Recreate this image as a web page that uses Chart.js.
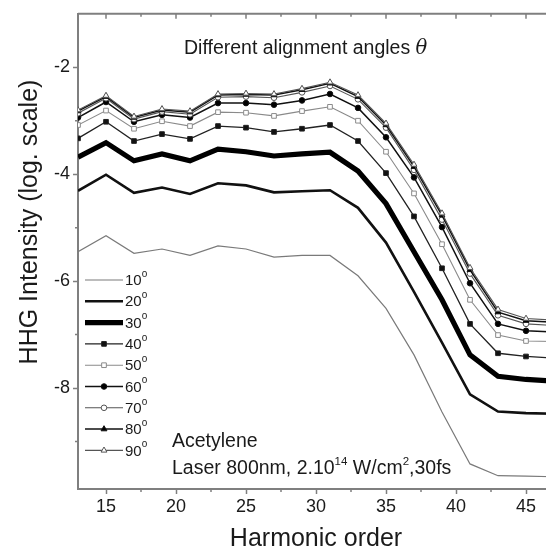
<!DOCTYPE html>
<html>
<head>
<meta charset="utf-8">
<script src="https://cdn.jsdelivr.net/npm/chart.js@4/dist/chart.umd.min.js"></script>
<style>
  html, body { margin: 0; padding: 0; background: #fff; overflow: hidden; }
  canvas { display: block; }
</style>
</head>
<body>
<canvas id="hhg" width="560" height="552"></canvas>
<script>
// Harmonic orders (odd harmonics), last one falls just past the visible edge
const orders = [13, 15, 17, 19, 21, 23, 25, 27, 29, 31, 33, 35, 37, 39, 41, 43, 45, 47];
const angleLabels = ['10', '20', '30', '40', '50', '60', '70', '80', '90'];

// log10 of HHG intensity
const i10 = [-5.45, -5.15, -5.48, -5.40, -5.52, -5.34, -5.40, -5.55, -5.52, -5.52, -5.90, -6.51, -7.38, -8.45, -9.42, -9.64, -9.65, -9.66];
const i20 = [-4.31, -4.01, -4.35, -4.25, -4.37, -4.17, -4.21, -4.34, -4.32, -4.30, -4.63, -5.28, -6.20, -7.15, -8.12, -8.44, -8.47, -8.48];
const i30 = [-3.68, -3.41, -3.75, -3.62, -3.75, -3.53, -3.58, -3.66, -3.62, -3.59, -3.94, -4.55, -5.45, -6.35, -7.38, -7.78, -7.84, -7.87];
const i40 = [-3.33, -3.02, -3.38, -3.25, -3.34, -3.10, -3.13, -3.21, -3.15, -3.08, -3.38, -3.98, -4.79, -5.76, -6.80, -7.35, -7.41, -7.44];
const i50 = [-3.08, -2.81, -3.15, -3.01, -3.10, -2.84, -2.85, -2.91, -2.82, -2.74, -3.00, -3.58, -4.36, -5.31, -6.35, -7.01, -7.12, -7.13];
const i60 = [-2.94, -2.65, -3.02, -2.89, -2.94, -2.67, -2.67, -2.70, -2.62, -2.50, -2.76, -3.31, -4.06, -4.99, -6.04, -6.80, -6.93, -6.95];
const i70 = [-2.86, -2.58, -2.97, -2.83, -2.88, -2.56, -2.55, -2.57, -2.47, -2.35, -2.60, -3.13, -3.92, -4.85, -5.86, -6.64, -6.80, -6.83];
const i80 = [-2.82, -2.55, -2.94, -2.80, -2.84, -2.52, -2.51, -2.52, -2.42, -2.30, -2.55, -3.08, -3.86, -4.77, -5.79, -6.58, -6.74, -6.77];
const i90 = [-2.80, -2.53, -2.92, -2.78, -2.82, -2.50, -2.49, -2.50, -2.40, -2.28, -2.52, -3.05, -3.82, -4.73, -5.75, -6.53, -6.70, -6.73];
const series = [i10, i20, i30, i40, i50, i60, i70, i80, i90];

// tick values
const xMajor = [15, 20, 25, 30, 35, 40, 45];
const xMinor = [17.5, 22.5, 27.5, 32.5, 37.5, 42.5];
const yMajor = [-8, -6, -4, -2];
const yMinor = [-9, -7, -5, -3];

const FONT = '"Liberation Sans", Arial, Helvetica, sans-serif';
const AXIS = '#7f7f7f';
const INK = '#1a1a1a';

// line look per angle
const styles = [
  { color: '#7a7a7a', width: 1.2, point: false },
  { color: '#111111', width: 2.6, point: false },
  { color: '#000000', width: 5.2, point: false },
  { color: '#222222', width: 1.3, point: 'rect', fill: '#111111', r: 3.3 },
  { color: '#8a8a8a', width: 1.1, point: 'rect', fill: '#ffffff', r: 3.3 },
  { color: '#111111', width: 1.5, point: 'circle', fill: '#000000', r: 2.8 },
  { color: '#555555', width: 1.1, point: 'circle', fill: '#ffffff', r: 2.8 },
  { color: '#111111', width: 1.5, point: 'triangle', fill: '#000000', r: 3.4 },
  { color: '#555555', width: 1.1, point: 'triangle', fill: '#ffffff', r: 3.4 }
];

const datasets = series.map((vals, i) => {
  const st = styles[i];
  return {
    label: angleLabels[i],
    data: vals.map((v, k) => ({ x: orders[k], y: v })),
    borderColor: st.color,
    borderWidth: st.width,
    backgroundColor: st.fill || st.color,
    pointStyle: st.point || 'circle',
    pointRadius: st.point ? st.r : 0,
    pointBackgroundColor: st.fill || st.color,
    pointBorderColor: st.color,
    pointBorderWidth: 1,
    tension: 0,
    order: series.length - 1 - i
  };
});

// frame, minor ticks, in-plot texts and the line-sample legend
const decor = {
  id: 'decor',
  afterDraw(chart) {
    const { ctx, chartArea: a, scales: { x, y } } = chart;
    ctx.save();
    ctx.strokeStyle = AXIS;
    ctx.lineWidth = 2;
    ctx.beginPath();
    ctx.moveTo(a.left, a.top);
    ctx.lineTo(a.right, a.top);
    ctx.stroke();

    ctx.lineWidth = 1.5;
    ctx.beginPath();
    xMajor.forEach(v => { const px = x.getPixelForValue(v); ctx.moveTo(px, a.top); ctx.lineTo(px, a.top + 5); });
    xMinor.forEach(v => {
      const px = x.getPixelForValue(v);
      ctx.moveTo(px, a.top); ctx.lineTo(px, a.top + 3);
      ctx.moveTo(px, a.bottom); ctx.lineTo(px, a.bottom + 3);
    });
    yMinor.forEach(v => { const py = y.getPixelForValue(v); ctx.moveTo(a.left, py); ctx.lineTo(a.left - 3, py); });
    ctx.stroke();

    // axis titles
    ctx.fillStyle = INK;
    ctx.font = '25px ' + FONT;
    ctx.textAlign = 'center';
    ctx.textBaseline = 'alphabetic';
    ctx.fillText('Harmonic order', (a.left + a.right) / 2, 546);
    ctx.save();
    ctx.translate(37, 222);
    ctx.rotate(-Math.PI / 2);
    ctx.fillText('HHG Intensity (log. scale)', 0, 0);
    ctx.restore();

    // in-plot texts
    ctx.textAlign = 'left';
    ctx.font = '19.5px ' + FONT;
    let tx = 184;
    ctx.fillText('Different alignment angles ', tx, 54);
    tx += ctx.measureText('Different alignment angles ').width;
    ctx.font = 'italic 19.5px "DejaVu Serif", serif';
    ctx.fillText('\u03B8', tx, 54);

    ctx.font = '19.5px ' + FONT;
    ctx.fillText('Acetylene', 172, 447);
    const parts = [['Laser 800nm, 2.10', false], ['14', true], [' W/cm', false], ['2', true], [',30fs', false]];
    tx = 172;
    parts.forEach(([t, sup]) => {
      ctx.font = (sup ? '11.5px ' : '19.5px ') + FONT;
      ctx.fillText(t, tx, sup ? 465 : 474);
      tx += ctx.measureText(t).width;
    });

    // legend
    chart.data.datasets.forEach((ds, i) => {
      const st = styles[i];
      const ly = 280 + i * 21.3;
      ctx.strokeStyle = st.color;
      ctx.lineWidth = st.width;
      ctx.beginPath();
      ctx.moveTo(85, ly);
      ctx.lineTo(123, ly);
      ctx.stroke();
      if (st.point) {
        ctx.fillStyle = st.fill;
        ctx.strokeStyle = st.color;
        ctx.lineWidth = 1;
        Chart.helpers.drawPoint(ctx, { pointStyle: st.point, radius: st.r, borderWidth: 1, rotation: 0 }, 104, ly);
      }
      ctx.fillStyle = INK;
      ctx.font = '15px ' + FONT;
      ctx.textBaseline = 'middle';
      ctx.fillText(ds.label, 125, ly + 1);
      const w = ctx.measureText(ds.label).width;
      ctx.font = '10px ' + FONT;
      ctx.fillText('o', 125 + w, ly - 6);
      ctx.textBaseline = 'alphabetic';
    });
    ctx.restore();
  }
};

new Chart(document.getElementById('hhg'), {
  type: 'line',
  data: { datasets },
  options: {
    responsive: false,
    animation: false,
    layout: { padding: { left: 0, top: 9, right: 6, bottom: 0 } },
    plugins: { legend: { display: false }, tooltip: { enabled: false } },
    scales: {
      x: {
        type: 'linear',
        min: 13,
        max: 47,
        afterBuildTicks: s => { s.ticks = xMajor.map(v => ({ value: v })); },
        afterFit: s => { s.height = 63; },
        grid: { display: true, drawOnChartArea: false, drawTicks: true, tickLength: 5, tickColor: AXIS, tickWidth: 1.5 },
        border: { display: true, color: AXIS, width: 2 },
        ticks: { font: { family: FONT, size: 18 }, color: INK, padding: 2, maxRotation: 0, autoSkip: false }
      },
      y: {
        type: 'linear',
        min: -9.889,
        max: -1,
        afterBuildTicks: s => { s.ticks = yMajor.map(v => ({ value: v })); },
        afterFit: s => { s.width = 78; },
        grid: { display: true, drawOnChartArea: false, drawTicks: true, tickLength: 5, tickColor: AXIS, tickWidth: 1.5 },
        border: { display: true, color: AXIS, width: 2 },
        ticks: { font: { family: FONT, size: 18 }, color: INK, padding: 3, autoSkip: false }
      }
    }
  },
  plugins: [decor]
});
</script>
</body>
</html>
